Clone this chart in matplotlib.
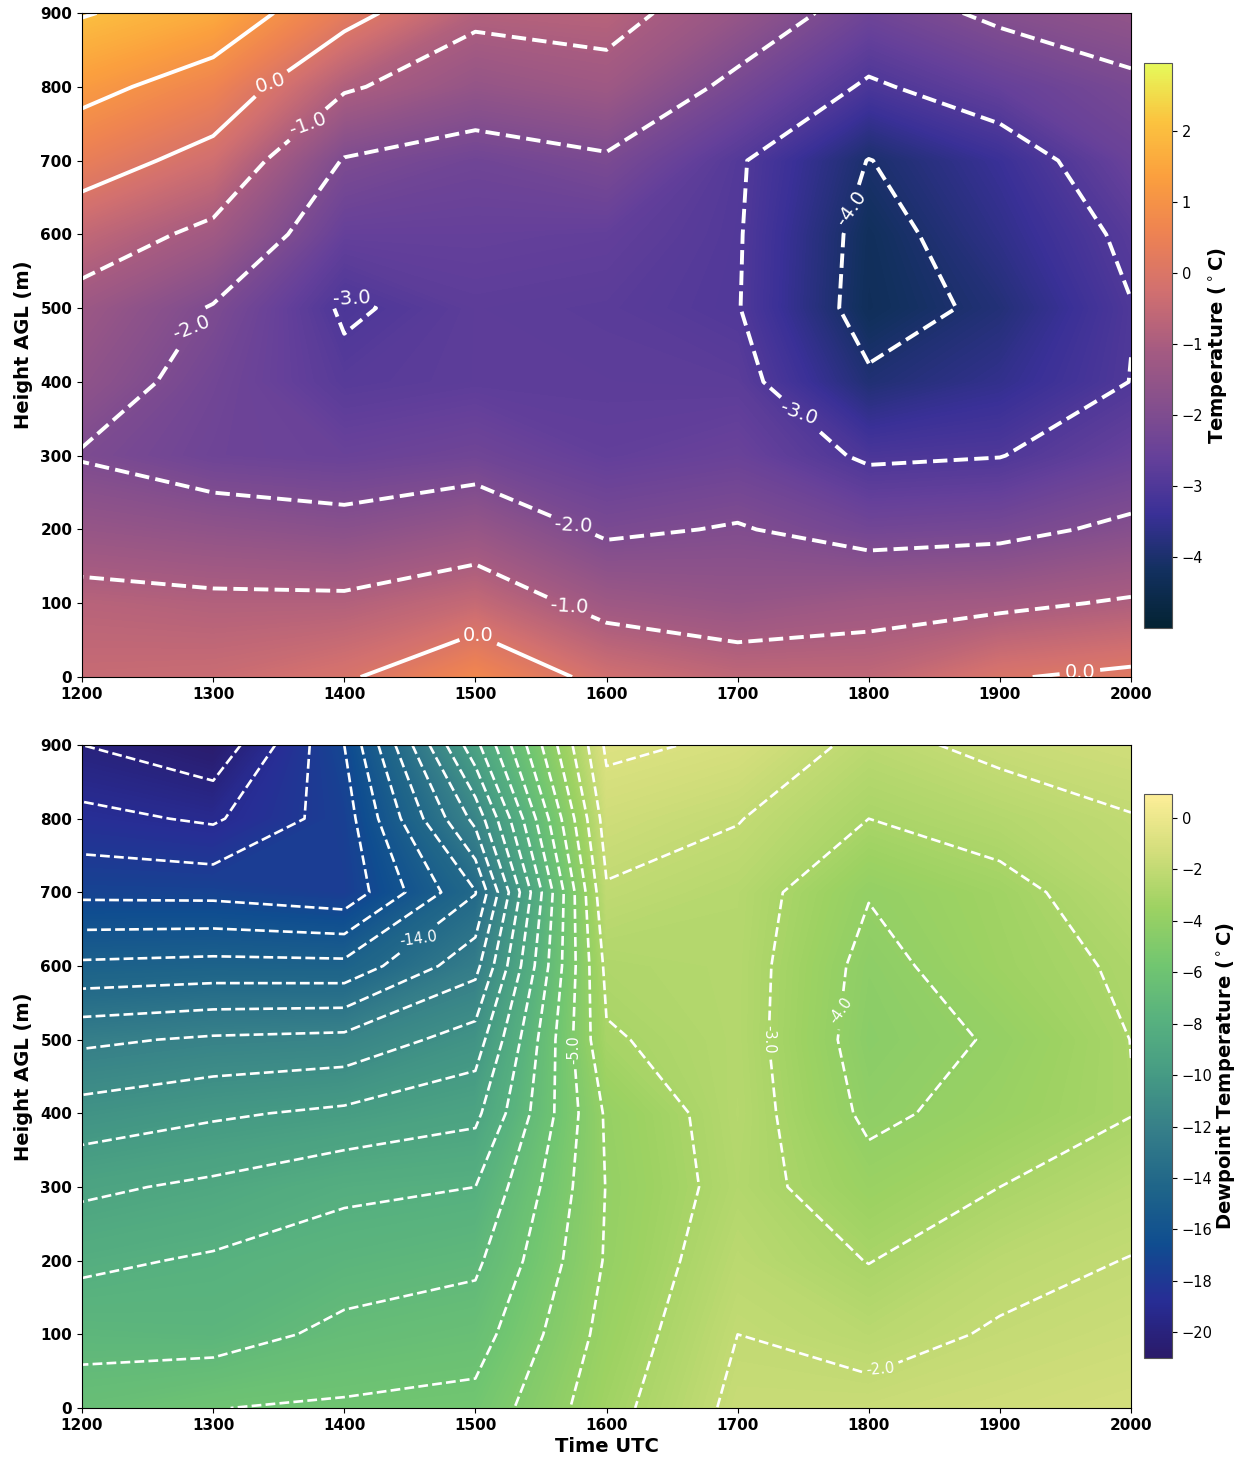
import numpy as np
import matplotlib
matplotlib.use('Agg')
import matplotlib.pyplot as plt
from matplotlib.colors import LinearSegmentedColormap

times = [1200, 1300, 1400, 1500, 1600, 1700, 1800, 1900, 2000]
heights = [0, 100, 200, 300, 400, 500, 600, 700, 800, 900]

# temperature, one list per time, bottom to top
t_1200 = [-0.45, -0.75, -1.45, -2.05, -1.60, -1.30, -0.55, 0.40, 1.25, 2.05]
t_1300 = [-0.40, -0.85, -1.60, -2.40, -2.30, -2.05, -1.20, -0.30, 0.60, 1.60]
t_1400 = [-0.10, -0.85, -1.75, -2.50, -2.85, -3.08, -2.60, -2.05, -0.90, 0.30]
t_1500 = [0.70, -0.50, -1.45, -2.35, -2.75, -2.75, -2.60, -2.35, -1.50, -0.83]
t_1600 = [-0.25, -1.27, -2.12, -2.65, -2.75, -2.80, -2.65, -2.10, -1.25, -0.75]
t_1700 = [-0.60, -1.45, -1.95, -2.50, -2.78, -2.97, -2.95, -2.92, -2.20, -1.45]
t_1800 = [-0.60, -1.25, -2.30, -3.10, -3.90, -4.30, -4.25, -4.02, -3.10, -2.38]
t_1900 = [-0.05, -1.15, -2.20, -3.02, -3.55, -3.85, -3.60, -3.40, -2.60, -1.85]
t_2000 = [0.15, -0.92, -1.85, -2.55, -2.99, -3.02, -2.86, -2.50, -2.15, -1.55]

# dewpoint, same layout
d_1200 = [-6.50, -7.35, -8.20, -9.20, -10.60, -12.20, -14.80, -17.25, -18.70, -20.00]
d_1300 = [-6.02, -7.45, -7.88, -8.80, -10.15, -11.85, -14.65, -17.30, -19.15, -20.80]
d_1400 = [-5.87, -6.75, -7.50, -8.20, -9.80, -11.70, -14.70, -17.70, -17.50, -17.00]
d_1500 = [-5.70, -6.45, -7.20, -8.00, -9.25, -10.55, -12.33, -14.05, -11.70, -9.30]
d_1600 = [-3.35, -3.65, -3.90, -3.96, -3.85, -3.10, -2.75, -2.10, -1.50, -0.80]
d_1700 = [-1.75, -2.00, -2.30, -2.60, -2.50, -2.55, -2.55, -2.50, -1.95, -1.16]
d_1800 = [-1.70, -2.35, -3.03, -3.65, -4.20, -4.45, -4.30, -3.95, -3.00, -2.30]
d_1900 = [-1.50, -1.90, -2.30, -3.00, -3.65, -3.90, -3.45, -3.33, -2.55, -1.74]
d_2000 = [-1.30, -1.65, -1.97, -2.40, -3.03, -2.99, -2.85, -2.40, -2.05, -1.45]

thermal_colors = ['#042333', '#12305f', '#3a3097', '#65409a', '#87508c', '#a85c80',
                  '#d2706f', '#ee8252', '#fb9f3e', '#fbc43f', '#e6f95a']
haline_colors = ['#2a1a69', '#272d95', '#0f4d90', '#1f6589', '#357e89', '#459a84',
                 '#57b17f', '#72c670', '#9dd262', '#d3de7b', '#fdee98']

# (x, height) where the contour labels sit, and how they are turned
t_label_spots = [(1344, 805), (1371, 751), (1269, 491), (1404, 507), (1787, 636),
                 (1745, 354), (1575, 207), (1570, 89), (1500, 47), (1961, 7)]
t_label_angles = [18, 20, 22, 3, 55, -20, -3, -3, 0, 0]
d_label_spots = [(1459, 632), (1574, 486), (1720, 500), (1778, 540), (1808, 56)]
d_label_angles = [8, 90, -90, 55, 5]

thermal = LinearSegmentedColormap.from_list('thermal', thermal_colors)
haline = LinearSegmentedColormap.from_list('haline', haline_colors)

temp = np.array([t_1200, t_1300, t_1400, t_1500, t_1600, t_1700, t_1800, t_1900, t_2000]).T
dewp = np.array([d_1200, d_1300, d_1400, d_1500, d_1600, d_1700, d_1800, d_1900, d_2000]).T
X, Y = np.meshgrid(times, heights)

W, H = 1238.0, 1462.0
fig = plt.figure(figsize=(12.38, 14.62), dpi=100)


def panel(top, bottom, bar_top, bar_bottom, data, cmap, lo, hi, levels, lw, fs, spots, angles, bar_label, bar_ticks, pad):
    ax = fig.add_axes([82 / W, 1 - bottom / H, (1131 - 82) / W, (bottom - top) / H])
    filled = ax.contourf(X, Y, data, levels=np.linspace(lo, hi, 256), cmap=cmap)
    lines = ax.contour(X, Y, data, levels=levels, colors='white', linewidths=lw)
    labels = ax.clabel(lines, fmt='%1.1f', fontsize=fs, colors='white', manual=spots)
    for lab, ang in zip(labels, angles):
        lab.set_rotation(ang)
    ax.set_xlim(1200, 2000)
    ax.set_ylim(0, 900)
    ax.set_xticks(times)
    ax.set_yticks(heights)
    ax.set_ylabel('Height AGL (m)', fontsize=14, fontweight='bold', labelpad=5)
    for lab in ax.get_xticklabels() + ax.get_yticklabels():
        lab.set_fontsize(11)
        lab.set_fontweight('bold')
    cax = fig.add_axes([1144 / W, 1 - bar_bottom / H, 28 / W, (bar_bottom - bar_top) / H])
    cb = fig.colorbar(filled, cax=cax)
    cb.set_ticks(bar_ticks)
    cb.ax.tick_params(labelsize=10.5)
    cb.outline.set_edgecolor('#555555')
    cb.set_label(bar_label, fontsize=14, fontweight='bold', labelpad=pad)
    return ax


panel(13, 677, 63, 628, temp, thermal, -5.0, 2.96, np.arange(-4, 3), 2.8, 14,
      t_label_spots, t_label_angles, 'Temperature ($^\\circ$C)', list(range(-4, 3)), 2)
ax2 = panel(745, 1408, 794, 1358, dewp, haline, -21.0, 0.93, np.arange(-21, 0), 1.9, 10.5,
            d_label_spots, d_label_angles, 'Dewpoint Temperature ($^\\circ$C)', list(range(-20, 1, 2)), 1)
ax2.set_xlabel('Time UTC', fontsize=14, fontweight='bold', labelpad=3)

plt.savefig('out.png', dpi=100)
